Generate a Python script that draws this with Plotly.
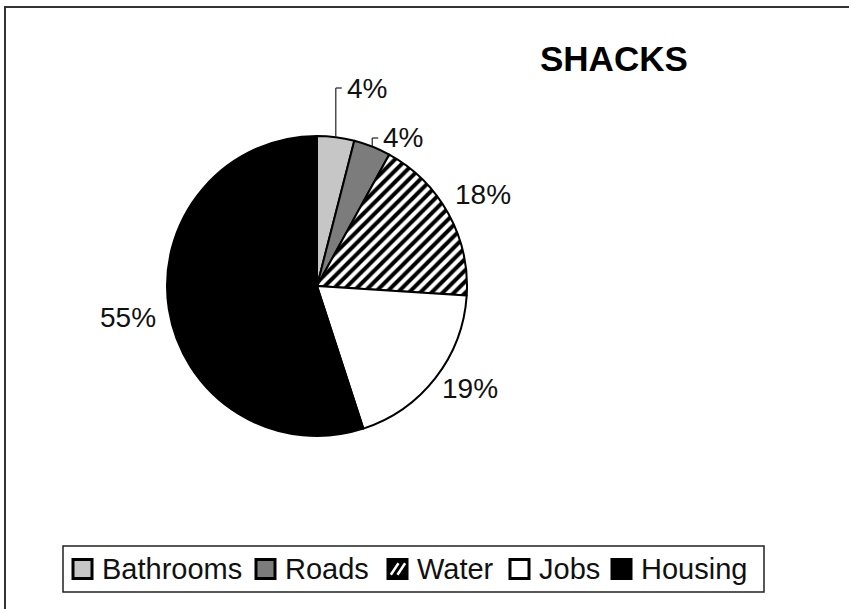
import math
import plotly.graph_objects as go

# Survey shares for the "SHACKS" group
categories = ["Bathrooms", "Roads", "Water", "Jobs", "Housing"]
shares = [4, 4, 18, 19, 55]
slice_colors = ["#c6c6c6", "#7c7c7c", "#ffffff", "#ffffff", "#000000"]
slice_patterns = ["", "", "/", "", ""]

W, H = 849, 609
CX, CY, R = 317, 286, 150  # pie centre and radius in pixels
FONT = "Liberation Sans, Arial, sans-serif"


def px(x):
    return x / W


def py(y):
    return 1 - y / H


fig = go.Figure()
fig.add_trace(go.Pie(
    labels=categories,
    values=shares,
    sort=False,
    direction="clockwise",
    rotation=0,
    textinfo="none",
    hoverinfo="label+percent",
    showlegend=False,
    marker=dict(
        colors=slice_colors,
        line=dict(color="#000000", width=2),
        pattern=dict(shape=slice_patterns, fgcolor="#000000",
                     bgcolor=slice_colors, size=8, solidity=0.5),
    ),
    domain=dict(x=[px(CX - R), px(CX + R)], y=[py(CY + R), py(CY - R)]),
))

annotations = []
shapes = []
font_lbl = dict(family=FONT, size=28, color="#111111")

# Percentage labels around the pie
total = sum(shares)
cum = 0
small_label_y = [88, 138]  # label heights for the two thin slices (leader lines)
label_nudge = {"Jobs": (4, -13), "Housing": (-2, 2)}  # pixel tweaks for readability
small_idx = 0
for name, v in zip(categories, shares):
    mid = (cum + v / 2) / total * 2 * math.pi
    cum += v
    text = f"{round(v / total * 100)}%"
    sx, sy = math.sin(mid), -math.cos(mid)
    if v / total < 0.08:
        # thin slice: vertical leader from the rim, short tick, label to the right
        ex, ey = CX + R * sx, CY + R * sy
        ly = small_label_y[small_idx]
        small_idx += 1
        shapes.append(dict(type="line", xref="paper", yref="paper",
                           x0=px(ex), y0=py(ey), x1=px(ex), y1=py(ly),
                           line=dict(color="#222222", width=1.2)))
        shapes.append(dict(type="line", xref="paper", yref="paper",
                           x0=px(ex), y0=py(ly), x1=px(ex + 6), y1=py(ly),
                           line=dict(color="#222222", width=1.2)))
        annotations.append(dict(x=px(ex + 9), y=py(ly), xref="paper", yref="paper",
                                text=text, showarrow=False, xanchor="left",
                                yanchor="middle", font=font_lbl))
    else:
        dx, dy = label_nudge.get(name, (0, 0))
        lx, ly = CX + 1.26 * R * sx + dx, CY + 1.26 * R * sy + dy
        annotations.append(dict(x=px(lx), y=py(ly), xref="paper", yref="paper",
                                text=text, showarrow=False, xanchor="center",
                                yanchor="middle", font=font_lbl))

# Title
annotations.append(dict(x=px(614), y=py(58), xref="paper", yref="paper",
                        text="<b>SHACKS</b>", showarrow=False,
                        xanchor="center", yanchor="middle",
                        font=dict(family=FONT, size=35, color="#000000")))

# Chart-area frame: only the top and left edges fall inside the page
shapes.append(dict(type="path", xref="paper", yref="paper",
                   path=f"M {px(5)},0 L {px(5)},{py(7)} L 1,{py(7)}",
                   line=dict(color="#333333", width=2)))

# Legend: framed row of swatches with category names
LEG_Y = 569
legend_text_x = [100, 283, 415, 537, 639]
shapes.append(dict(type="rect", xref="paper", yref="paper",
                   x0=px(63), y0=py(592), x1=px(764), y1=py(546),
                   line=dict(color="#222222", width=1.5), fillcolor="#ffffff",
                   layer="below"))
SW = 19
for name, col, pat, tx in zip(categories, slice_colors, slice_patterns, legend_text_x):
    x0, x1 = tx - 27, tx - 27 + SW
    y0, y1 = LEG_Y - SW / 2, LEG_Y + SW / 2
    fill = "#000000" if pat else col
    shapes.append(dict(type="rect", xref="paper", yref="paper",
                       x0=px(x0), y0=py(y1), x1=px(x1), y1=py(y0),
                       line=dict(color="#000000", width=3), fillcolor=fill))
    if pat:
        for a, b in [(0.15, 0.55), (0.5, 0.9)]:
            shapes.append(dict(type="line", xref="paper", yref="paper",
                               x0=px(x0 + a * SW), y0=py(y1 - 0.2 * SW),
                               x1=px(x0 + b * SW), y1=py(y0 + 0.2 * SW),
                               line=dict(color="#ffffff", width=2.5)))
    annotations.append(dict(x=px(tx), y=py(LEG_Y), xref="paper", yref="paper",
                            text=name, showarrow=False, xanchor="left",
                            yanchor="middle",
                            font=dict(family=FONT, size=29, color="#111111")))

fig.update_layout(
    width=W, height=H,
    margin=dict(l=0, r=0, t=0, b=0),
    paper_bgcolor="#ffffff",
    plot_bgcolor="#ffffff",
    annotations=annotations,
    shapes=shapes,
    showlegend=False,
)

fig.write_html("out.html")
